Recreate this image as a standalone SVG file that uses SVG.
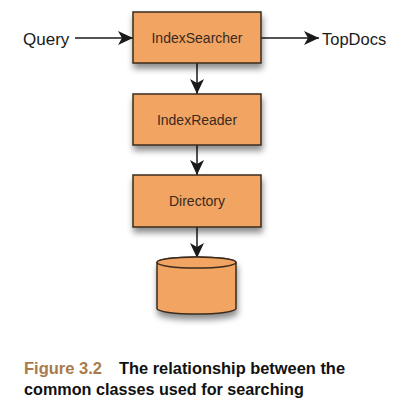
<svg xmlns="http://www.w3.org/2000/svg" width="415" height="414" viewBox="0 0 415 414">
<style>
.box{fill:#F2A462;stroke:#3b2b1e;stroke-width:1.5}
.lbl{font-family:"Liberation Sans",Arial,sans-serif;font-size:14px;fill:#3a2a20;text-anchor:middle}
.ext{font-family:"Liberation Sans",Arial,sans-serif;font-size:17px;fill:#1a1a1a}
.edge{stroke:#1a1a1a;stroke-width:1.5;fill:none}
.cap{font-family:"Liberation Sans",Arial,sans-serif;font-size:16.2px;font-weight:bold;fill:#111}
</style>
<defs>
<filter id="sh" x="-20%" y="-20%" width="140%" height="160%">
<feDropShadow dx="1" dy="5" stdDeviation="3" flood-color="#000" flood-opacity="0.45"/>
</filter>
<marker id="ah" markerWidth="16" markerHeight="14" refX="15" refY="7" orient="auto" markerUnits="userSpaceOnUse">
<path d="M15,7 L0,0 L4,7 L0,14 Z" fill="#1a1a1a"/>
</marker>
</defs>
<rect width="415" height="414" fill="#fff"/>
<g id="connectors">
<line class="edge" x1="75" y1="38" x2="133" y2="38" marker-end="url(#ah)"/>
<line class="edge" x1="261" y1="38" x2="319" y2="38" marker-end="url(#ah)"/>
<line class="edge" x1="197" y1="63" x2="197" y2="94" marker-end="url(#ah)"/>
<line class="edge" x1="197" y1="145" x2="197" y2="175" marker-end="url(#ah)"/>
<line class="edge" x1="197" y1="227" x2="197" y2="258" marker-end="url(#ah)"/>
</g>
<g id="query"><text class="ext" x="23" y="45">Query</text></g>
<g id="topdocs"><text class="ext" x="322" y="45" style="font-size:16.5px">TopDocs</text></g>
<g id="indexsearcher">
<rect class="box" x="133" y="12" width="128" height="51" filter="url(#sh)"/>
<text class="lbl" x="197" y="43">IndexSearcher</text>
</g>
<g id="indexreader">
<rect class="box" x="133" y="94" width="128" height="51" filter="url(#sh)"/>
<text class="lbl" x="197" y="125">IndexReader</text>
</g>
<g id="directory">
<rect class="box" x="133" y="175" width="128" height="52" filter="url(#sh)"/>
<text class="lbl" x="197" y="206">Directory</text>
</g>
<g id="storage">
<path class="box" d="M157,262.5 L157,308.5 A39.5,5.5 0 0 0 236,308.5 L236,262.5 A39.5,5.5 0 0 0 157,262.5 Z" filter="url(#sh)"/>
<ellipse class="box" cx="196.5" cy="262.5" rx="39.5" ry="5.5"/>
</g>
<g id="caption">
<text class="cap" x="24" y="374"><tspan fill="#A87A4C" textLength="78" lengthAdjust="spacingAndGlyphs">Figure 3.2</tspan><tspan x="119" textLength="226" lengthAdjust="spacingAndGlyphs">The relationship between the</tspan></text>
<text class="cap" x="24" y="395">common classes used for searching</text>
</g>
</svg>
